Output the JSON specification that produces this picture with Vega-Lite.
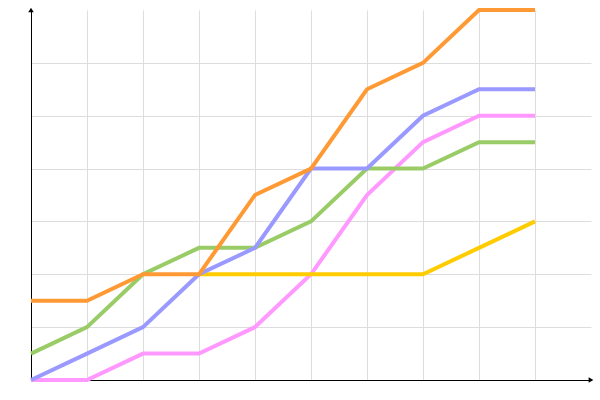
{
  "$schema": "https://vega.github.io/schema/vega-lite/v6.json",
  "width": 560,
  "height": 370,
  "autosize": "none",
  "padding": {"left": 31, "top": 10, "right": 9, "bottom": 20},
  "background": "white",
  "config": {"view": {"stroke": null}},
  "datasets": {
    "lines": [
      {"s": "s1", "x": 0, "y": 0}, {"s": "s1", "x": 1, "y": 0}, {"s": "s1", "x": 2, "y": 0.5}, {"s": "s1", "x": 3, "y": 0.5}, {"s": "s1", "x": 4, "y": 1}, {"s": "s1", "x": 5, "y": 2}, {"s": "s1", "x": 6, "y": 3.5}, {"s": "s1", "x": 7, "y": 4.5}, {"s": "s1", "x": 8, "y": 5}, {"s": "s1", "x": 9, "y": 5},
      {"s": "s2", "x": 3, "y": 2}, {"s": "s2", "x": 4, "y": 2}, {"s": "s2", "x": 5, "y": 2}, {"s": "s2", "x": 6, "y": 2}, {"s": "s2", "x": 7, "y": 2}, {"s": "s2", "x": 8, "y": 2.5}, {"s": "s2", "x": 9, "y": 3},
      {"s": "s3", "x": 0, "y": 0.5}, {"s": "s3", "x": 1, "y": 1}, {"s": "s3", "x": 2, "y": 2}, {"s": "s3", "x": 3, "y": 2.5}, {"s": "s3", "x": 4, "y": 2.5}, {"s": "s3", "x": 5, "y": 3}, {"s": "s3", "x": 6, "y": 4}, {"s": "s3", "x": 7, "y": 4}, {"s": "s3", "x": 8, "y": 4.5}, {"s": "s3", "x": 9, "y": 4.5},
      {"s": "s4", "x": 0, "y": 0}, {"s": "s4", "x": 1, "y": 0.5}, {"s": "s4", "x": 2, "y": 1}, {"s": "s4", "x": 3, "y": 2}, {"s": "s4", "x": 4, "y": 2.5}, {"s": "s4", "x": 5, "y": 4}, {"s": "s4", "x": 6, "y": 4}, {"s": "s4", "x": 7, "y": 5}, {"s": "s4", "x": 8, "y": 5.5}, {"s": "s4", "x": 9, "y": 5.5},
      {"s": "s5", "x": 0, "y": 1.5}, {"s": "s5", "x": 1, "y": 1.5}, {"s": "s5", "x": 2, "y": 2}, {"s": "s5", "x": 3, "y": 2}, {"s": "s5", "x": 4, "y": 3.5}, {"s": "s5", "x": 5, "y": 4}, {"s": "s5", "x": 6, "y": 5.5}, {"s": "s5", "x": 7, "y": 6}, {"s": "s5", "x": 8, "y": 7}, {"s": "s5", "x": 9, "y": 7}
    ]
  },
  "layer": [
    {
      "data": {"name": "lines"},
      "mark": {"type": "line", "strokeWidth": 4, "clip": false},
      "encoding": {
        "x": {"field": "x", "type": "quantitative", "scale": {"domain": [0, 10], "nice": false, "zero": false},
          "axis": {"title": null, "labels": false, "ticks": false, "values": [1, 2, 3, 4, 5, 6, 7, 8, 9], "grid": true, "gridColor": "#dddddd", "gridWidth": 1, "domainColor": "black", "domainWidth": 1}},
        "y": {"field": "y", "type": "quantitative", "scale": {"domain": [0, 7], "nice": false},
          "axis": {"title": null, "labels": false, "ticks": false, "values": [1, 2, 3, 4, 5, 6], "grid": true, "gridColor": "#dddddd", "gridWidth": 1, "domainColor": "black", "domainWidth": 1}},
        "color": {"field": "s", "type": "nominal", "legend": null,
          "scale": {"domain": ["s1", "s2", "s3", "s4", "s5"], "range": ["#ff99ff", "#ffcc00", "#99cc66", "#9999ff", "#ff9933"]}},
        "order": {"field": "x", "type": "quantitative"}
      }
    },
    {
      "data": {"values": [{"x": 10, "y": 0}]},
      "mark": {"type": "point", "shape": "triangle-right", "filled": true, "color": "black", "size": 30, "opacity": 1, "clip": false},
      "encoding": {"x": {"field": "x", "type": "quantitative"}, "y": {"field": "y", "type": "quantitative"}}
    },
    {
      "data": {"values": [{"x": 0, "y": 7}]},
      "mark": {"type": "point", "shape": "triangle-up", "filled": true, "color": "black", "size": 30, "opacity": 1, "clip": false},
      "encoding": {"x": {"field": "x", "type": "quantitative"}, "y": {"field": "y", "type": "quantitative"}}
    }
  ]
}
